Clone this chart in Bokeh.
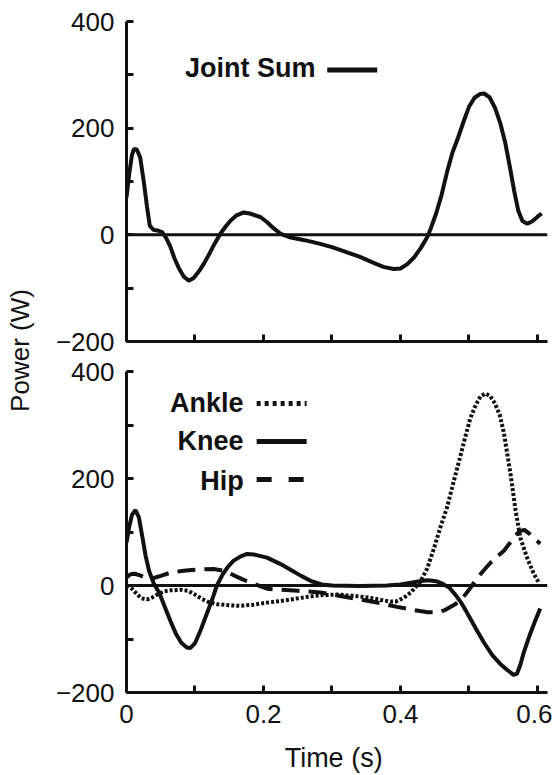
import math
from bokeh.plotting import figure
from bokeh.models import Range1d, FixedTicker, Span, Label
from bokeh.layouts import row, column
from bokeh.embed import file_html
from bokeh.resources import INLINE

# ---------------- data ----------------
t_sum = [0.000, 0.004, 0.008, 0.011, 0.015, 0.020, 0.025, 0.030, 0.034, 0.040,
         0.046, 0.052, 0.058, 0.064, 0.070, 0.077, 0.084, 0.091, 0.098, 0.106,
         0.113, 0.120, 0.128, 0.137, 0.145, 0.152, 0.160, 0.171, 0.180, 0.196,
         0.205, 0.215, 0.225, 0.240, 0.260, 0.280, 0.300, 0.320, 0.340, 0.360,
         0.375, 0.390, 0.400, 0.410, 0.420, 0.430, 0.440, 0.445, 0.452, 0.460,
         0.468, 0.476, 0.484, 0.492, 0.500, 0.508, 0.516, 0.522, 0.530, 0.538,
         0.546, 0.553, 0.560, 0.566, 0.572, 0.578, 0.585, 0.592, 0.600, 0.606]
p_sum = [70, 115, 150, 161, 160, 145, 102, 52, 17, 9,
         8, 5, -6, -22, -44, -64, -79, -86, -81, -68,
         -54, -38, -18, 2, 16, 27, 36, 42, 40, 33,
         24, 12, 2, -5, -10, -16, -23, -32, -41, -52,
         -60, -64, -63, -55, -42, -24, -2, 15, 40, 75,
         118, 155, 182, 212, 240, 257, 264, 265, 258, 238,
         208, 172, 125, 82, 45, 26, 21, 25, 34, 40]

t_knee = [0.000, 0.004, 0.008, 0.013, 0.018, 0.023, 0.028, 0.033, 0.040, 0.048,
          0.056, 0.064, 0.072, 0.080, 0.088, 0.093, 0.100, 0.108, 0.116, 0.124,
          0.132, 0.140, 0.148, 0.156, 0.166, 0.176, 0.186, 0.196, 0.205, 0.215,
          0.225, 0.240, 0.255, 0.270, 0.285, 0.300, 0.340, 0.380, 0.400, 0.415,
          0.428, 0.440, 0.452, 0.462, 0.472, 0.480, 0.488, 0.495, 0.502, 0.512,
          0.522, 0.534, 0.546, 0.556, 0.565, 0.570, 0.575, 0.580, 0.588, 0.596, 0.604]
p_knee = [80, 110, 132, 141, 128, 92, 55, 27, 3, -14,
          -40, -66, -90, -107, -116, -117, -108, -84, -57, -30,
          0, 20, 35, 46, 54, 59, 58, 55, 52, 46,
          40, 29, 18, 8, 2, 0, -1, 0, 2, 5,
          8, 10, 8, 3, -5, -17, -31, -46, -62, -85,
          -107, -130, -147, -158, -167, -165, -148, -125, -95, -68, -43]

t_ankle = [0.000, 0.008, 0.015, 0.022, 0.030, 0.038, 0.046, 0.055, 0.065, 0.080,
           0.090, 0.100, 0.110, 0.120, 0.133, 0.150, 0.166, 0.185, 0.205, 0.225,
           0.245, 0.265, 0.285, 0.307, 0.330, 0.356, 0.372, 0.385, 0.393, 0.400,
           0.408, 0.415, 0.422, 0.429, 0.439, 0.449, 0.458, 0.468, 0.478, 0.486,
           0.494, 0.502, 0.510, 0.517, 0.524, 0.531, 0.538, 0.545, 0.551, 0.556,
           0.561, 0.568, 0.575, 0.585, 0.595, 0.602]
p_ankle = [0, -6, -16, -24, -26, -22, -16, -11, -9, -8,
           -10, -17, -25, -31, -35, -37, -38, -36, -32, -29,
           -25, -21, -18, -17, -19, -23, -27, -30, -30, -26,
           -20, -13, -3, 7, 32, 70, 108, 146, 196, 235,
           275, 313, 338, 354, 359, 354, 340, 318, 285, 245,
           205, 140, 89, 51, 21, 5]

t_hip = [0.000, 0.006, 0.012, 0.020, 0.030, 0.040, 0.050, 0.064, 0.080, 0.095,
         0.110, 0.127, 0.140, 0.150, 0.160, 0.172, 0.186, 0.205, 0.225, 0.250,
         0.283, 0.310, 0.341, 0.370, 0.395, 0.420, 0.440, 0.455, 0.465, 0.476,
         0.488, 0.500, 0.512, 0.522, 0.531, 0.541, 0.551, 0.560, 0.568, 0.575,
         0.581, 0.588, 0.596, 0.604]
p_hip = [15, 21, 22, 19, 13, 14, 18, 24, 27, 29,
         30, 31, 28, 23, 17, 10, 3, -6, -8, -10,
         -13, -19, -26, -33, -40, -46, -50, -50, -46, -38,
         -28, -8, 14, 29, 42, 54, 65, 80, 94, 102,
         104, 97, 87, 78]

y_ticks = [-200, 0, 200, 400]
y_minor = [-100, 100, 300]
x_ticks = [0, 0.2, 0.4, 0.6]
x_minor = [0.1, 0.3, 0.5]
y_tick_text = {-200: "\u2212200"}

# ---------------- styling ----------------
FONT = "Liberation Sans"
INK = "#111111"
X_END = 0.6146
TEXT_SIZE = "26px"
LEG_SIZE = "27px"


def make_fig(height, top, bottom):
    p = figure(width=500, height=height,
               x_range=Range1d(0, X_END), y_range=Range1d(-200, 400),
               output_backend="svg", toolbar_location=None,
               min_border_left=74, min_border_right=5,
               min_border_top=top, min_border_bottom=bottom)
    p.outline_line_color = None
    p.grid.visible = False
    p.background_fill_color = "white"
    p.xaxis.ticker = FixedTicker(ticks=x_ticks, minor_ticks=x_minor)
    p.yaxis.ticker = FixedTicker(ticks=y_ticks, minor_ticks=y_minor)
    p.yaxis.major_label_overrides = y_tick_text
    for ax in p.axis:
        ax.axis_line_width = 3
        ax.axis_line_color = INK
        ax.major_tick_line_width = 3
        ax.minor_tick_line_width = 3
        ax.major_tick_line_color = INK
        ax.minor_tick_line_color = INK
        ax.major_tick_in = 7
        ax.major_tick_out = 0
        ax.minor_tick_in = 7
        ax.minor_tick_out = 0
        ax.major_label_text_font = FONT
        ax.major_label_text_font_size = TEXT_SIZE
        ax.major_label_text_color = INK
    p.yaxis.major_label_standoff = 12
    p.add_layout(Span(location=0, dimension="width", line_color=INK, line_width=3))
    return p


def blank_fig(width, height):
    p = figure(width=width, height=height,
               x_range=Range1d(0, width), y_range=Range1d(0, height),
               output_backend="svg", toolbar_location=None,
               x_axis_location=None, y_axis_location=None,
               min_border_left=0, min_border_right=0,
               min_border_top=0, min_border_bottom=0)
    p.outline_line_color = None
    p.grid.visible = False
    return p


# top panel: joint sum  (frame 21 .. 341 px)
p1 = make_fig(355, 21, 14)
p1.xaxis.major_label_text_color = None
p1.xaxis.major_label_text_font_size = "1px"
p1.xaxis.major_label_standoff = 0
p1.line(t_sum, p_sum, line_color=INK, line_width=4)
p1.add_layout(Label(x=0.276, y=312, text="Joint Sum", text_align="right",
                    text_baseline="middle", text_font=FONT,
                    text_font_style="bold", text_font_size=LEG_SIZE, text_color=INK))
p1.line([0.293, 0.366], [309, 309], line_color=INK, line_width=5)

# bottom panel: ankle, knee, hip  (frame 371 .. 692 px)
p2 = make_fig(383, 16, 46)
p2.xaxis.major_label_standoff = 12
p2.line(t_ankle, p_ankle, line_color=INK, line_width=4, line_dash="3 2")
p2.line(t_knee, p_knee, line_color=INK, line_width=4)
p2.line(t_hip, p_hip, line_color=INK, line_width=4, line_dash="18 9")

leg_x_text = 0.171
leg_x0, leg_x1 = 0.190, 0.263
for name, text_y, line_y, dash in [("Ankle", 342, 340, "4 4"),
                                    ("Knee", 271, 269, "solid"),
                                    ("Hip", 196, 198, "15 17")]:
    p2.add_layout(Label(x=leg_x_text, y=text_y, text=name, text_align="right",
                        text_baseline="middle", text_font=FONT,
                        text_font_style="bold", text_font_size=LEG_SIZE, text_color=INK))
    p2.line([leg_x0, leg_x1], [line_y, line_y], line_color=INK, line_width=5,
            line_dash=dash)

# x-axis title strip under the bottom panel (centred under t = 0.3)
px = blank_fig(500, 37)
px.add_layout(Label(x=246, y=18, text="Time (s)", text_align="center",
                    text_baseline="middle", text_font=FONT,
                    text_font_size="27px", text_color=INK))

# shared y-axis title in a narrow side figure
pl = blank_fig(52, 775)
pl.add_layout(Label(x=19, y=775 - 350, text="Power (W)", angle=math.pi / 2,
                    text_align="center", text_baseline="middle", text_font=FONT,
                    text_font_size=TEXT_SIZE, text_color=INK))

layout = row(pl, column(p1, p2, px))
open("out.html", "w").write(file_html(layout, INLINE))
